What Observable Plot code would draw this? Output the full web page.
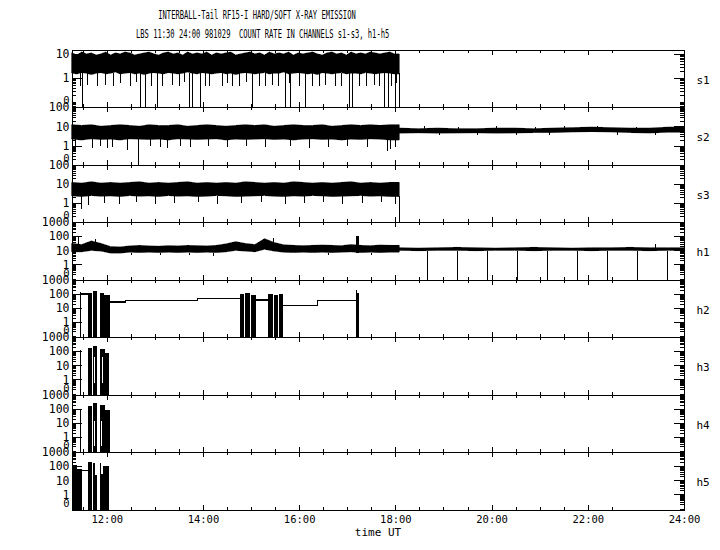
<!DOCTYPE html>
<html><head><meta charset="utf-8">
<script src="https://cdn.jsdelivr.net/npm/d3@7"></script>
<script src="https://cdn.jsdelivr.net/npm/@observablehq/plot@0.6"></script>
<style>
body{margin:0;background:#fff;}
#wrap{position:relative;width:720px;height:550px;overflow:hidden;background:#fff;}
.t{position:absolute;font-family:"DejaVu Sans Mono",monospace;font-size:11.5px;line-height:13px;white-space:pre;color:#000;text-align:center;}
</style></head><body>
<div id="wrap">
<div class="t" style="left:57px;width:400px;top:9px;transform:scaleX(0.62);">INTERBALL-Tail RF15-I HARD/SOFT X-RAY EMISSION</div>
<div class="t" style="left:60px;width:400px;top:28px;transform:scaleX(0.62);">LBS 11:30 24:00 981029  COUNT RATE IN CHANNELS s1-s3, h1-h5</div>
<div class="t" style="left:278px;width:200px;top:526px;font-size:11px;">time UT</div>
</div>
<script>
// ---------- axes / categories ----------
const T0 = 11.278, T1 = 24;
const panelNames = ["s1","s2","s3","h1","h2","h3","h4","h5"];
const hourTicks = [12,14,16,18,20,22,24];
const hourLabels = ["12:00","14:00","16:00","18:00","20:00","22:00","24:00"];
const s1Labels = [1,10];
const sLabels = [1,10,100];
const hLabels = [1,10,100,1000];

// ---------- s1 (0.1 h bins from 11.28 to 18.08) ----------
const s1Hi = [11,9,12,10,11,9,10,12,9,11, 10,12,11,9,10,11,12,10,9,11, 12,10,11,9,12,10,11,10,12,9, 11,10,11,12,9,10,11,12,10,11, 9,12,10,11,10,12,9,11,10,11, 12,10,9,11,12,10,11,9,12,10, 11,10,12,11,10,11,12,10];
const s1Lo = [1.6,1.5,1.7,1.6,1.4,1.6,1.7,1.5,1.6,1.8, 1.5,1.6,1.7,1.5,1.6,1.4,1.6,1.7,1.6,1.5, 1.7,1.6,1.5,1.6,1.8,1.6,1.5,1.7,1.6,1.5, 1.6,1.7,1.5,1.6,1.4,1.6,1.7,1.6,1.5,1.6, 1.7,1.5,1.6,1.6,1.8,1.5,1.6,1.7,1.6,1.5, 1.6,1.4,1.7,1.6,1.5,1.6,1.7,1.5,1.6,1.6, 1.5,1.7,1.6,1.5,1.6,1.7,1.6,1.5];
const s1DipT = [11.45,11.59,11.80,11.97,12.14,12.28,12.49,12.60,12.91,13.15,13.36,13.50,13.60,14.05,14.12,14.40,14.50,14.60,14.74,14.90,15.16,15.30,15.44,15.57,15.78,15.99,16.27,16.41,16.54,16.75,16.86,17.24,17.38,17.55,17.65,17.90,18.02];
const s1DipV = [0.45,0.5,0.45,0.5,0.45,0.6,0.45,0.7,0.45,0.45,0.5,0.45,0.7,0.45,0.45,0.45,0.6,0.45,0.45,0.7,0.45,0.45,0.5,0.45,0.6,0.45,0.45,0.45,0.5,0.45,0.45,0.45,0.45,0.5,0.45,0.45,0.6];
const s1ZeroT = [11.49,12.70,12.79,13.05,13.72,13.77,13.93,15.03,15.71,15.82,16.13,17.03,17.10,17.76,17.85,18.00,18.08];

// ---------- s2 ----------
const s2LHi = [12,11,12,10,11,12,11,10,12,11, 11,12,10,11,12,11,10,11,12,11, 12,10,11,12,11,11,12,10,11,12, 11,12,11,12];
const s2LLo = [2.2,2.0,2.3,2.1,2.2,2.0,2.3,2.2,2.1,2.2, 2.0,2.3,2.2,2.1,2.2,2.3,2.0,2.2,2.1,2.2, 2.3,2.1,2.2,2.0,2.2,2.3,2.1,2.2,2.0,2.2, 2.1,2.3,2.2,2.0];
const s2DipT = [11.34,11.69,11.86,12.00,12.11,12.42,12.90,13.11,13.26,13.52,13.73,14.10,14.50,14.90,15.30,15.80,16.20,16.60,17.00,17.40,17.82,17.88,18.00];
const s2DipV = [0.9,0.8,1.0,0.8,0.9,0.6,1.0,0.9,0.8,1.0,0.9,1.0,0.9,1.0,0.9,1.0,0.8,0.9,1.0,0.9,0.5,0.7,0.9];
const s2ZeroT = [12.65];
const s2RHi = [8,7.5,8,7.5,7.5,8,8,7.5,8,8.5,9,8.5,8,8,9];
const s2RLo = [4.5,4.7,4.5,4.6,4.7,4.5,4.6,4.8,4.8,5.2,5.4,5.2,4.8,4.6,5.0];
const s2UpT = [18.6,19.3,20.1,20.9,21.5,22.2,23.0,23.9];
const s2UpV = [10,9.5,10,9.5,11,10,9.5,11];
const s2DnT = [18.9,19.7,20.5,21.2,22.6,23.4];
const s2DnV = [3.6,3.5,3.6,3.7,3.5,3.6];

// ---------- s3 ----------
const s3Hi = [12,11,13,11,12,11,12,13,11,12, 11,12,13,11,12,11,12,11,13,12, 11,12,11,13,12,11,12,11,12,13, 11,12,11,12];
const s3Lo = [2.4,2.2,2.5,2.3,2.4,2.2,2.5,2.3,2.4,2.2, 2.5,2.3,2.4,2.2,2.3,2.5,2.4,2.2,2.3,2.4, 2.5,2.3,2.2,2.4,2.3,2.5,2.4,2.2,2.3,2.4, 2.5,2.3,2.4,2.2];
const s3DipT = [11.46,11.62,11.95,12.25,12.60,13.00,13.40,13.90,14.30,14.80,15.20,15.70,16.10,16.50,16.90,17.30,17.70,18.00];
const s3DipV = [0.5,0.8,1.0,0.9,1.1,0.9,1.0,1.1,0.9,1.0,1.1,0.9,1.0,1.1,0.9,1.0,1.1,0.9];
const s3ZeroT = [18.08];

// ---------- h1 ----------
const h1LHi = [30,25,45,30,18,17,20,22,20,19, 21,20,22,21,20,22,28,40,30,25, 65,35,24,22,21,22,23,22,21,25, 22,21,23,22];
const h1LLo = [8,8,10,9,6.5,6.5,7.5,7,7.5,7, 7.5,7,7.5,7,7.5,7,8,10,9,8, 12,9,7.5,7,7.5,7,7.5,7,7.5,8, 7,7.5,7,7.5];
const h1SpikeT = [11.40,11.75,15.45,23.40];
const h1SpikeV = [92,60,80,30];
const h1DipT = [12.5,13.1,13.7,14.2,16.6,17.5];
const h1DipV = [5,4.5,5,4,5,5];
const h1RHi = [15,14,15,16,15,14,15,16,15,14,15,15,16,15,15];
const h1RLo = [10,9.5,10,10,9.5,10,10,9.5,10,10,9.5,10,10,9.5,10];
const h1ZeroT = [18.66,19.28,19.91,20.53,21.15,21.78,22.40,23.02,23.65];

// ---------- h2..h5 bursts: start, end, top value (bottom is 0) ----------
const h2BurstT1 = [11.61,11.71,11.86,11.95,14.77,14.88,14.99,15.35,15.47,15.58,17.19,17.21];
const h2BurstT2 = [11.69,11.80,11.95,12.07,14.86,14.97,15.10,15.45,15.56,15.66,17.21,17.24];
const h2BurstV  = [120,150,110,90,100,110,90,100,90,100,180,120];
const h2LineT = [11.44,11.61, 12.07,12.38,13.88,14.77, 15.10,15.35, 15.66,16.37,17.20];
const h2LineV = [110,110, 28,37,50,50, 40,40, 16,37,37];
const h2LineSeg = [0,0, 1,1,1,1, 2,2, 3,3,3];
const h2SpikeT = [11.44]; const h2SpikeV = [140];

const h3BurstT1 = [11.61,11.71,11.86,11.96];
const h3BurstT2 = [11.69,11.80,11.96,12.05];
const h3BurstV  = [170,220,150,80];
const h3GapT = [11.73,11.90]; const h3GapLo = [0.6,0.6]; const h3GapHi = [40,40];
const h3SpikeT = [11.44]; const h3SpikeV = [120];

const h4BurstT1 = [11.61,11.71,11.86,11.96];
const h4BurstT2 = [11.69,11.80,11.96,12.07];
const h4BurstV  = [160,280,190,90];
const h4GapT = [11.73,11.89]; const h4GapLo = [0.2,0.2]; const h4GapHi = [13,13];
const h4SpikeT = [11.44]; const h4SpikeV = [100];

const h5BurstT1 = [11.30,11.38,11.61,11.71,11.76,11.86,11.89,11.92];
const h5BurstT2 = [11.38,11.49,11.69,11.76,11.80,11.89,11.92,12.05];
const h5BurstV  = [130,60,200,170,25,170,30,110];
const h5LineT = [11.49,11.61]; const h5LineV = [55,55]; const h5LineSeg = [0,0];

// ---------- builders ----------
const grid = (start, step, n) => d3.range(n).map(i => +(start + step*i).toFixed(3));
function band(t0, step, hi, lo, tEnd) {
  const t = grid(t0, step, hi.length);
  const rows = t.map((x,i) => ({t:x, hi:hi[i], lo:lo[i]}));
  rows.push({t:tEnd, hi:hi[hi.length-1], lo:lo[lo.length-1]});
  return rows;
}
const rulesFrom = (T, A, B) => T.map((t,i) => ({t, a: Array.isArray(A)?A[i]:A, b: Array.isArray(B)?B[i]:B}));
const blocksFrom = (T1a, T2a, V) => T1a.map((t,i) => ({t1:t, t2:T2a[i], lo:0, hi:V[i]}));
const linesFrom = (T, V, S) => T.map((t,i) => ({t, v:V[i], seg:S[i]}));

const panels = [
  {floor:0.062, top:14.7, labels:s1Labels,
   bands:[band(11.28,0.1,s1Hi,s1Lo,18.08)],
   rules:[...rulesFrom(s1DipT,1.6,s1DipV), ...rulesFrom(s1ZeroT,1.6,0)]},
  {floor:0.1, top:100, labels:sLabels,
   bands:[band(11.28,0.2,s2LHi,s2LLo,18.08), band(18.08,0.4,s2RHi,s2RLo,24)],
   rules:[...rulesFrom(s2DipT,2.1,s2DipV), ...rulesFrom(s2ZeroT,2.1,0), ...rulesFrom(s2UpT,7,s2UpV), ...rulesFrom(s2DnT,5,s2DnV)]},
  {floor:0.1, top:100, labels:sLabels,
   bands:[band(11.28,0.2,s3Hi,s3Lo,18.08)],
   rules:[...rulesFrom(s3DipT,2.3,s3DipV), ...rulesFrom(s3ZeroT,2.3,0)]},
  {floor:0.08, top:1000, labels:hLabels,
   bands:[band(11.28,0.2,h1LHi,h1LLo,18.08), band(18.08,0.4,h1RHi,h1RLo,24)],
   blocks:[{t1:17.18,t2:17.24,lo:7,hi:110}],
   rules:[...rulesFrom(h1SpikeT,12,h1SpikeV), ...rulesFrom(h1DipT,7,h1DipV), ...rulesFrom(h1ZeroT,9.5,0)]},
  {floor:0.08, top:1000, labels:hLabels,
   blocks:blocksFrom(h2BurstT1,h2BurstT2,h2BurstV),
   rules:rulesFrom(h2SpikeT,0,h2SpikeV),
   lines:linesFrom(h2LineT,h2LineV,h2LineSeg)},
  {floor:0.08, top:1000, labels:hLabels,
   blocks:blocksFrom(h3BurstT1,h3BurstT2,h3BurstV),
   rules:rulesFrom(h3SpikeT,0,h3SpikeV),
   gaps:rulesFrom(h3GapT,h3GapLo,h3GapHi)},
  {floor:0.08, top:1000, labels:hLabels,
   blocks:blocksFrom(h4BurstT1,h4BurstT2,h4BurstV),
   rules:rulesFrom(h4SpikeT,0,h4SpikeV),
   gaps:rulesFrom(h4GapT,h4GapLo,h4GapHi)},
  {floor:0.08, top:1000, labels:hLabels,
   blocks:blocksFrom(h5BurstT1,h5BurstT2,h5BurstV),
   lines:linesFrom(h5LineT,h5LineV,h5LineSeg)}
];

// ---------- layout ----------
const W = 720, ML = 72, MR = 36, PW = W - ML - MR;
const tops = [50,107,165,222,280,337,395,452,510];
const FONT = "DejaVu Sans Mono";
const halfTicks = d3.range(23).map(i => 11.5 + 0.5*i).filter(t => !hourTicks.includes(t));

function logTicks(fl, top) {
  const minor = [], major = [];
  for (let e = -2; e <= 3; e++) for (let k = 1; k <= 9; k++) {
    const v = k * Math.pow(10, e);
    if (v <= fl*1.001 || v >= top*0.999) continue;
    (k === 1 && e >= 0 ? major : minor).push(v);
  }
  return {minor, major};
}

const wrap = document.getElementById("wrap");
panels.forEach((p, i) => {
  const H = tops[i+1] - tops[i];
  const fl = p.floor;
  const cl = v => Math.max(v, fl);
  const {minor, major} = logTicks(fl, p.top);
  const marks = [];
  (p.bands || []).forEach(b => marks.push(Plot.areaY(b, {x:"t", y1:d=>cl(d.lo), y2:d=>cl(d.hi), curve:"linear", fill:"black", stroke:"black", strokeWidth:0.8})));
  if (p.blocks) marks.push(Plot.rect(p.blocks, {x1:"t1", x2:"t2", y1:d=>cl(d.lo), y2:d=>cl(d.hi), fill:"black"}));
  if (p.rules) marks.push(Plot.ruleX(p.rules, {x:"t", y1:d=>cl(d.a), y2:d=>cl(d.b), stroke:"black"}));
  if (p.gaps) marks.push(Plot.ruleX(p.gaps, {x:"t", y1:d=>cl(d.a), y2:d=>cl(d.b), stroke:"white"}));
  if (p.lines) marks.push(Plot.line(p.lines, {x:"t", y:d=>cl(d.v), z:"seg", curve:"step-after", stroke:"black"}));
  // y ticks inward, both sides
  marks.push(Plot.ruleY(minor, {y:d=>d, insetRight:PW-4, stroke:"black"}));
  marks.push(Plot.ruleY(minor, {y:d=>d, insetLeft:PW-4, stroke:"black"}));
  marks.push(Plot.ruleY(major, {y:d=>d, insetRight:PW-10, stroke:"black"}));
  marks.push(Plot.ruleY(major, {y:d=>d, insetLeft:PW-10, stroke:"black"}));
  // x ticks inward, top and bottom
  marks.push(Plot.ruleX(halfTicks, {x:d=>d, insetBottom:H-3, stroke:"black"}));
  marks.push(Plot.ruleX(halfTicks, {x:d=>d, insetTop:H-3, stroke:"black"}));
  marks.push(Plot.ruleX(hourTicks, {x:d=>d, insetBottom:H-5, stroke:"black"}));
  marks.push(Plot.ruleX(hourTicks, {x:d=>d, insetTop:H-5, stroke:"black"}));
  marks.push(Plot.frame({stroke:"black"}));
  // y labels
  marks.push(Plot.text(p.labels, {y:d=>d, text:d=>String(d), frameAnchor:"left", textAnchor:"end", dx:-3, fontSize:11.5, fontFamily:FONT, fill:"black"}));
  marks.push(Plot.text([fl], {y:d=>d, text:()=>"0", frameAnchor:"left", textAnchor:"end", dx:-3, dy:-7, fontSize:10.5, fontFamily:FONT, fill:"black"}));
  // channel name
  marks.push(Plot.text([panelNames[i]], {text:d=>d, frameAnchor:"right", textAnchor:"start", dx:12, dy:1, fontSize:11, fontFamily:FONT, fill:"black"}));
  if (i === panels.length - 1) {
    marks.push(Plot.text(hourTicks, {x:d=>d, text:(d,j)=>hourLabels[j], frameAnchor:"bottom", lineAnchor:"top", dy:5, fontSize:10.5, fontFamily:FONT, fill:"black"}));
  }
  const svg = Plot.plot({
    width: W, height: H,
    marginLeft: ML, marginRight: MR, marginTop: 0, marginBottom: 0,
    x: {domain:[T0, T1], axis:null},
    y: {type:"log", domain:[fl, p.top], axis:null},
    marks
  });
  svg.style.position = "absolute";
  svg.style.left = "0px";
  svg.style.top = tops[i] + "px";
  svg.style.overflow = "visible";
  svg.style.background = "transparent";
  svg.style.maxWidth = "none";
  svg.setAttribute("shape-rendering", "crispEdges");
  wrap.appendChild(svg);
});
</script>
</body></html>
